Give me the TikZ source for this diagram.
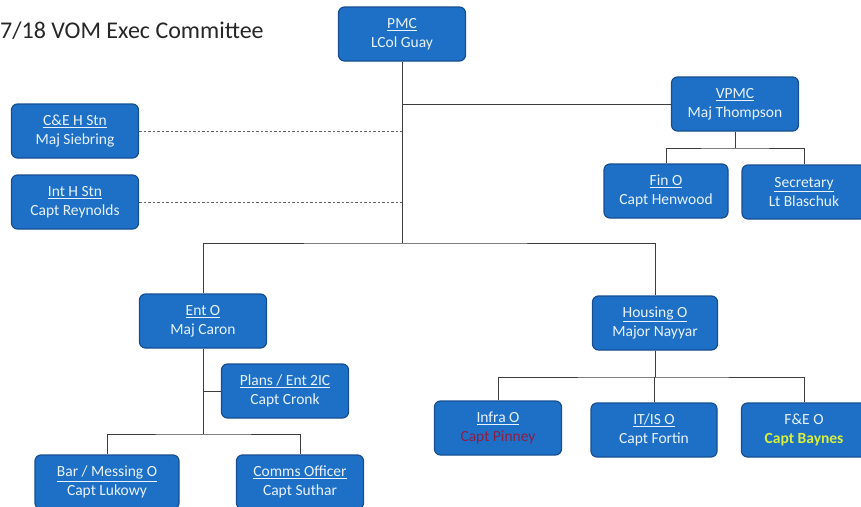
\documentclass[tikz,border=0pt]{standalone}
\usepackage{fontspec}
\setmainfont{Carlito}
\usepackage{xcolor}
\definecolor{boxblue}{RGB}{30,112,198}
\definecolor{boxedge}{RGB}{22,78,145}
\definecolor{boxtext}{RGB}{232,242,252}
\definecolor{wire}{RGB}{60,60,60}
\definecolor{infrared}{RGB}{140,30,70}
\definecolor{feyellow}{RGB}{215,240,60}

\tikzset{
  post/.style={draw=boxedge, line width=1.2pt, fill=boxblue, rounded corners=6pt,
    minimum width=127pt, minimum height=54pt, inner sep=1pt, align=center,
    text=boxtext, font=\fontsize{15.5}{19}\selectfont},
  wire/.style={draw=wire, line width=1pt},
  dotted wire/.style={draw=wire!80, line width=1pt, dash pattern=on 2.5pt off 2pt}
}

\begin{document}
\begin{tikzpicture}[x=1pt, y=-1pt]
    \useasboundingbox (0,0) rectangle (861,506);
    \clip (0,0) rectangle (861,506);

    \node[anchor=base west, font=\fontsize{24}{28}\selectfont, text=black!85, inner sep=0pt] (title) at (0,38) {7/18 VOM Exec Committee};

    % top of the tree
    \node[post] (pmc) at (402,34) {\underline{PMC}\\LCol Guay};
    \node[post] (vpmc) at (735,104) {\underline{VPMC}\\Maj Thompson};
    \node[post] (ceh) at (75,131) {\underline{C\&E H Stn}\\Maj Siebring};
    \node[post] (inth) at (75,202) {\underline{Int H Stn}\\Capt Reynolds};
    \node[post, minimum width=124pt] (fino) at (666,191) {\underline{Fin O}\\Capt Henwood};
    \node[post, minimum width=124pt] (sec) at (804,192) {\underline{Secretary}\\Lt Blaschuk};

    % entertainment branch
    \node[post] (ento) at (203,321) {\underline{Ent O}\\Maj Caron};
    \node[post] (plans) at (285,391) {\underline{Plans / Ent 2IC}\\Capt Cronk};
    \node[post, minimum width=144pt] (bar) at (107,482) {\underline{Bar / Messing O}\\Capt Lukowy};
    \node[post] (comms) at (300,482) {\underline{Comms Officer}\\Capt Suthar};

    % housing branch
    \node[post, minimum width=125pt] (housing) at (655,323) {\underline{Housing O}\\Major Nayyar};
    \node[post] (infra) at (498,428) {\underline{Infra O}\\\textcolor{infrared}{Capt Pinney}};
    \node[post, minimum width=126pt] (itis) at (654,430) {\underline{IT/IS O}\\Capt Fortin};
    \node[post, minimum width=125pt] (feo) at (804,430) {F\&E O\\\textcolor{feyellow}{\bfseries Capt Baynes}};

    \coordinate (trunk) at (402,243);
    \coordinate (vfork) at (735,148);
    \coordinate (efork) at (203,434);
    \coordinate (hfork) at (655,377);

    \draw[wire] (pmc.south) -- (trunk);
    \draw[wire] (pmc.south |- vpmc.west) -- (vpmc.west);
    \draw[dotted wire] (ceh.east) -- (ceh.east -| pmc.south);
    \draw[dotted wire] (inth.east) -- (inth.east -| pmc.south);
    \draw[wire] (ento.north) |- (trunk) -| (housing.north);

    \draw[wire] (vpmc.south) -- (vfork);
    \draw[wire] (fino.north) |- (vfork) -| (sec.north);

    \draw[wire] (ento.south) -- (efork);
    \draw[wire] (plans.west) -- (plans.west -| ento.south);
    \draw[wire] (bar.north) |- (efork) -| (comms.north);

    \draw[wire] (housing.south) -- (hfork);
    \draw[wire] (infra.north) |- (hfork) -| (feo.north);
    \draw[wire] (itis.north) -- (itis.north |- hfork);
\end{tikzpicture}
\end{document}
